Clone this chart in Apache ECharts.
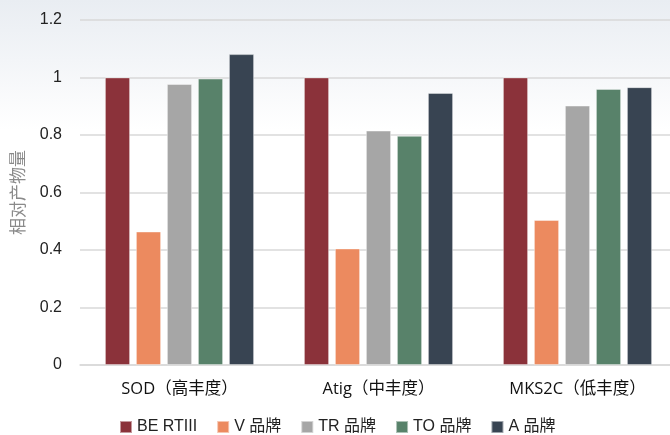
<!DOCTYPE html>
<html><head><meta charset="utf-8">
<script src="https://cdn.jsdelivr.net/npm/echarts@6/dist/echarts.min.js"></script>
<style>
html,body{margin:0;padding:0;overflow:hidden;width:670px;height:435px;}
body{background:linear-gradient(to bottom,#e9edf2 0px,#f3f5f8 60px,#ffffff 130px,#ffffff 100%);}
#c{width:680px;height:435px;}
</style></head>
<body><div id="c"></div>
<script>
const categories = ['SOD（高丰度）', 'Atig（中丰度）', 'MKS2C（低丰度）'];
const seriesNames = ['BE RTIII', 'V 品牌', 'TR 品牌', 'TO 品牌', 'A 品牌'];
const beValues = [1.0, 1.0, 1.0];
const vValues = [0.464, 0.405, 0.504];
const trValues = [0.977, 0.815, 0.902];
const toValues = [0.996, 0.797, 0.960];
const aValues = [1.081, 0.946, 0.966];
const yTicks = [0, 0.2, 0.4, 0.6, 0.8, 1, 1.2];
const colors = ['#8B323A', '#EC8A5F', '#A6A6A6', '#58826A', '#384452'];

const allValues = [beValues, vValues, trValues, toValues, aValues];
const chart = echarts.init(document.getElementById('c'));
chart.setOption({
  backgroundColor: 'transparent',
  color: colors,
  grid: {left: 80, top: 20, width: 597, height: 345, containLabel: false},
  legend: {
    top: 414, left: 114, itemWidth: 12, itemHeight: 12, itemGap: 19,
    icon: 'rect',
    textStyle: {fontSize: 16, color: '#222', fontFamily: 'Liberation Sans, Arial, Noto Sans CJK SC'},
    data: seriesNames
  },
  xAxis: {
    type: 'category', data: categories,
    axisLine: {lineStyle: {color: '#d9d9d9', width: 1.5}},
    axisTick: {show: false},
    axisLabel: {fontSize: 16.5, color: '#111', margin: 16, fontFamily: 'Open Sans, Noto Sans CJK SC'}
  },
  yAxis: {
    type: 'value', min: 0, max: 1.2, interval: 0.2,
    name: '相对产物量', nameLocation: 'middle', nameGap: 54, nameRotate: 90,
    nameTextStyle: {fontSize: 17, color: '#8a8a8a', fontFamily: 'Noto Sans CJK SC'},
    axisLine: {show: false}, axisTick: {show: false},
    splitLine: {lineStyle: {color: '#d9d9d9', width: 1.5}},
    axisLabel: {fontSize: 16, color: '#222', margin: 18, fontFamily: 'Liberation Sans, Arial',
      formatter: v => { const t = yTicks.find(x => Math.abs(x - v) < 1e-9); return t === undefined ? '' : String(t); }}
  },
  series: seriesNames.map((n, i) => ({
    name: n, type: 'bar', data: allValues[i], barWidth: 25, barGap: '24%',
    itemStyle: {color: colors[i], borderColor: 'rgba(255,255,255,0.5)', borderWidth: 0.8},
    emphasis: {disabled: true}
  }))
});
</script></body></html>
